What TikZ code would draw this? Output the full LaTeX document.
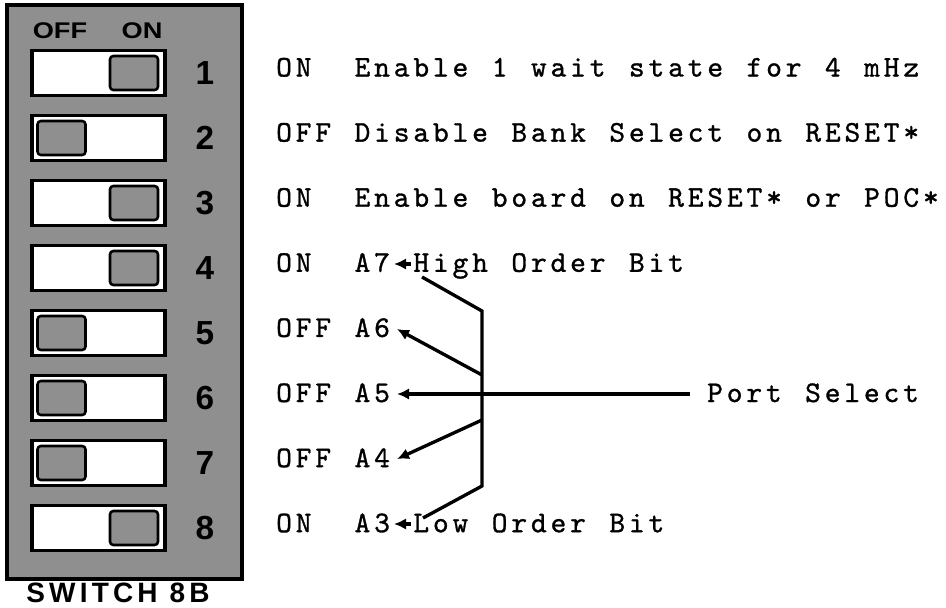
\documentclass[tikz,border=0pt]{standalone}
\usepackage{fontspec}
\setsansfont{Liberation Sans}
\newfontfamily\twfont{lmmono10-regular.otf}[FakeBold=1.0]
\usetikzlibrary{arrows.meta}
\definecolor{halftone}{gray}{0.56}
\ExplSyntaxOn
\NewDocumentCommand\tws{m}{\str_map_inline:nn {#1} {\makebox[14.7pt][c]{##1}}}
\ExplSyntaxOff
\tikzset{
  panelframe/.style={draw=black, line width=2.3pt, fill=halftone},
  swbox/.style={draw=black, line width=2.3pt, fill=white, minimum width=99.75pt, minimum height=33.75pt, inner sep=0pt},
  slider/.style={draw=black, line width=1.9pt, fill=halftone, rounded corners=2.5pt, minimum width=36pt, minimum height=25.5pt, inner sep=0pt},
  digit/.style={font=\fontsize{25}{25}\sffamily\bfseries, inner sep=0pt},
  hdr/.style={font=\fontsize{17}{17}\sffamily\bfseries, inner sep=0pt},
  tw/.style={font={\twfont\bfseries\fontsize{22.5}{22.5}\selectfont}, inner sep=0pt, anchor=base west},
  conn/.style={line width=2.5pt, line join=miter},
  arr/.style={conn, -{Latex[length=9pt,width=8.5pt]}},
}
\begin{document}
\begin{tikzpicture}[x=0.75pt,y=-0.75pt]
\useasboundingbox (0,0) rectangle (946,607);
% switch panel
\draw[panelframe] (7,5) rectangle (242,579);
\node[hdr] (off) at (60,31) {\scalebox{1.2}[1]{OFF}};
\node[hdr] (on) at (142,31) {\scalebox{1.2}[1]{ON}};
\foreach \i/\s in {1/1,2/0,3/1,4/1,5/0,6/0,7/0,8/1}{
  \pgfmathsetmacro\by{73+65*(\i-1)}
  \pgfmathsetmacro\sx{\s==1 ? 134 : 61.5}
  \node[swbox] (sw\i) at (98.5,\by) {};
  \node[slider] (sl\i) at (\sx,\by) {};
  \node[digit] (d\i) at (205,\by) {\i};
}
\node[font=\fontsize{21}{21}\sffamily\bfseries\addfontfeatures{LetterSpace=15}, inner sep=0pt] (title) at (118,593) {SWITCH 8B};
% settings text
\node[tw] (s1) at (274,76.5) {\tws{ON}};
\node[tw] (t1) at (352.4,76.5) {\tws{Enable 1 wait state for 4 mHz}};
\node[tw] (s2) at (274,141.6) {\tws{OFF}};
\node[tw] (t2) at (352.4,141.6) {\tws{Disable Bank Select on RESET*}};
\node[tw] (s3) at (274,206.7) {\tws{ON}};
\node[tw] (t3) at (352.4,206.7) {\tws{Enable board on RESET* or POC*}};
\node[tw] (s4) at (274,271.8) {\tws{ON}};
\node[tw] (a7) at (352.4,271.8) {\tws{A7}};
\node[tw] (hi) at (411.2,271.8) {\tws{High Order Bit}};
\node[tw] (s5) at (274,336.9) {\tws{OFF}};
\node[tw] (a6) at (352.4,336.9) {\tws{A6}};
\node[tw] (s6) at (274,402) {\tws{OFF}};
\node[tw] (a5) at (352.4,402) {\tws{A5}};
\node[tw] (s7) at (274,467.1) {\tws{OFF}};
\node[tw] (a4) at (352.4,467.1) {\tws{A4}};
\node[tw] (s8) at (274,532.2) {\tws{ON}};
\node[tw] (a3) at (352.4,532.2) {\tws{A3}};
\node[tw] (lo) at (411.2,532.2) {\tws{Low Order Bit}};
\node[tw] (ps) at (705,402) {\tws{Port Select}};
% connector points
\coordinate (h7) at (411,264);
\coordinate (t7) at (394,264);
\coordinate (l3) at (411,524);
\coordinate (t3) at (394,524);
\coordinate (bk1) at (422,277);
\coordinate (bk2) at (482,311);
\coordinate (bk3) at (482,486);
\coordinate (bk4) at (423,518);
\coordinate (j6) at (482,375);
\coordinate (t6) at (397,329);
\coordinate (pse) at (690,394);
\coordinate (t5) at (397,394);
\coordinate (j4) at (482,420);
\coordinate (t4) at (397,459);
% connectors
\draw[conn] (bk1) -- (bk2) -- (bk3) -- (bk4);
\draw[arr] (h7) -- (t7);
\draw[arr] (l3) -- (t3);
\draw[arr] (j6) -- (t6);
\draw[arr] (pse) -- (t5);
\draw[arr] (j4) -- (t4);
\end{tikzpicture}
\end{document}
